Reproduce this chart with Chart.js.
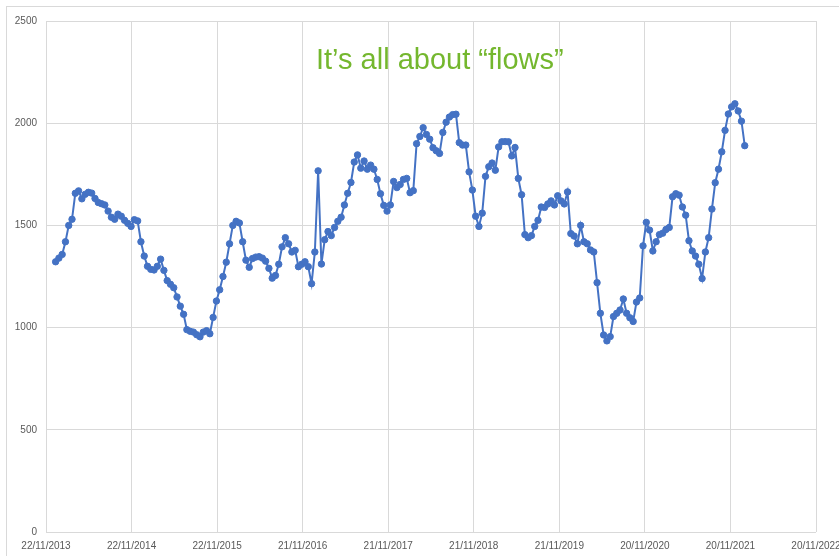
<!DOCTYPE html>
<html>
<head>
<meta charset="utf-8">
<script src="https://cdn.jsdelivr.net/npm/chart.js@4/dist/chart.umd.min.js"></script>
<style>
  html, body { margin: 0; padding: 0; background: #ffffff; overflow: hidden; }
  #frame { position: absolute; left: 6px; top: 6px; width: 900px; height: 600px; border: 1px solid #d9d9d9; }
  #wrap { position: absolute; left: 0; top: 0; width: 880px; height: 556px; }
</style>
</head>
<body>
<div id="frame"></div>
<div id="wrap"><canvas id="chart" width="880" height="556"></canvas></div>
<script>
// Axis tick labels, one per 365-day step from 22/11/2013
const tickLabels = ['22/11/2013', '22/11/2014', '22/11/2015', '21/11/2016', '21/11/2017',
                    '21/11/2018', '21/11/2019', '20/11/2020', '20/11/2021', '20/11/2022'];

// Series sampled every two weeks, first reading on 2 Jan 2014 (day 41 of the axis)
const firstDay = 41;
const stepDays = 14;
const flows = [
  1322, 1340, 1358, 1420, 1500, 1530, 1657, 1669, 1630, 1652,
  1662, 1658, 1632, 1612, 1606, 1600, 1570, 1540, 1530, 1555,
  1545, 1525, 1510, 1495, 1528, 1522, 1420, 1350, 1300, 1285,
  1282, 1300, 1335, 1280, 1230, 1212, 1195, 1150, 1105, 1065,
  990, 982, 978, 965, 955, 978, 985, 970, 1050, 1130,
  1185, 1250, 1320, 1410, 1500, 1520, 1512, 1420, 1330, 1295,
  1338, 1345, 1347, 1340, 1325, 1290, 1242, 1255, 1310, 1395,
  1440, 1410, 1370, 1378, 1298, 1310, 1322, 1298, 1215, 1370,
  1767, 1311, 1430, 1470, 1450, 1490, 1520, 1540, 1600, 1657,
  1710, 1810, 1845, 1780, 1815, 1775, 1795, 1775, 1725, 1655,
  1598, 1570, 1600, 1715, 1685, 1700, 1725, 1730, 1660, 1670,
  1900, 1935, 1978, 1945, 1922, 1880, 1865, 1852, 1955, 2005,
  2030, 2042, 2044, 1905, 1893, 1893, 1762, 1673, 1545, 1495,
  1560, 1740, 1787, 1805, 1770, 1884, 1909, 1910, 1909, 1840,
  1881, 1730, 1650, 1455, 1440, 1450, 1495, 1525, 1590, 1588,
  1605, 1620, 1600, 1645, 1620, 1605, 1664, 1460, 1448, 1410,
  1500, 1420, 1410, 1380, 1370, 1220, 1070, 964, 935, 956,
  1054, 1070, 1086, 1140, 1070, 1048, 1030, 1125, 1145, 1400,
  1515, 1477, 1375, 1420, 1455, 1462, 1480, 1490, 1640, 1655,
  1648, 1590, 1550, 1425, 1375, 1350, 1310, 1240, 1370, 1440,
  1580, 1709, 1775, 1860, 1965, 2045, 2080, 2095, 2060, 2010,
  1890
];

const yTicks = [0, 500, 1000, 1500, 2000, 2500];
const titleText = 'It\u2019s all about \u201Cflows\u201D';

const points = flows.map((v, i) => ({ x: firstDay + i * stepDays, y: v }));

const gridColor = '#d9d9d9';
const labelColor = '#595959';
const seriesColor = '#4472C4';

// Headline drawn inside the plot area
const headline = {
  id: 'headline',
  afterDraw(chart) {
    const { ctx, chartArea } = chart;
    ctx.save();
    ctx.font = '29px "Liberation Sans", Arial, sans-serif';
    ctx.fillStyle = '#74B72E';
    ctx.textAlign = 'left';
    ctx.textBaseline = 'alphabetic';
    ctx.fillText(titleText, chartArea.left + 270, chartArea.top + 48);
    ctx.restore();
  }
};

new Chart(document.getElementById('chart'), {
  type: 'line',
  data: {
    datasets: [{
      data: points,
      borderColor: seriesColor,
      backgroundColor: seriesColor,
      borderWidth: 2,
      pointRadius: 3.2,
      pointBorderWidth: 1,
      pointBackgroundColor: seriesColor,
      pointBorderColor: seriesColor,
      tension: 0,
      fill: false
    }]
  },
  options: {
    responsive: false,
    animation: false,
    layout: { padding: { left: 0, top: 21, right: 64, bottom: 0 } },
    plugins: { legend: { display: false }, tooltip: { enabled: false } },
    scales: {
      x: {
        type: 'linear',
        min: 0,
        max: 365 * (tickLabels.length - 1),
        afterBuildTicks(scale) {
          scale.ticks = tickLabels.map((_, i) => ({ value: i * 365 }));
        },
        afterFit(scale) { scale.paddingLeft = 0; scale.paddingRight = 0; scale.height = 24; },
        ticks: {
          autoSkip: false,
          maxRotation: 0,
          minRotation: 0,
          padding: 8,
          color: labelColor,
          font: { family: '"Liberation Sans", Arial, sans-serif', size: 10 },
          callback: (v) => tickLabels[Math.round(v / 365)]
        },
        grid: { color: gridColor, lineWidth: 1, drawTicks: false },
        border: { display: false }
      },
      y: {
        min: 0,
        max: 2500,
        afterBuildTicks(scale) {
          scale.ticks = yTicks.map(v => ({ value: v }));
        },
        afterFit(scale) { scale.width = 46; scale.paddingTop = 0; scale.paddingBottom = 0; },
        ticks: {
          padding: 9,
          color: labelColor,
          font: { family: '"Liberation Sans", Arial, sans-serif', size: 10 },
          callback: (v) => String(v)
        },
        grid: { color: gridColor, lineWidth: 1, drawTicks: false },
        border: { display: false }
      }
    }
  },
  plugins: [headline]
});
</script>
</body>
</html>
